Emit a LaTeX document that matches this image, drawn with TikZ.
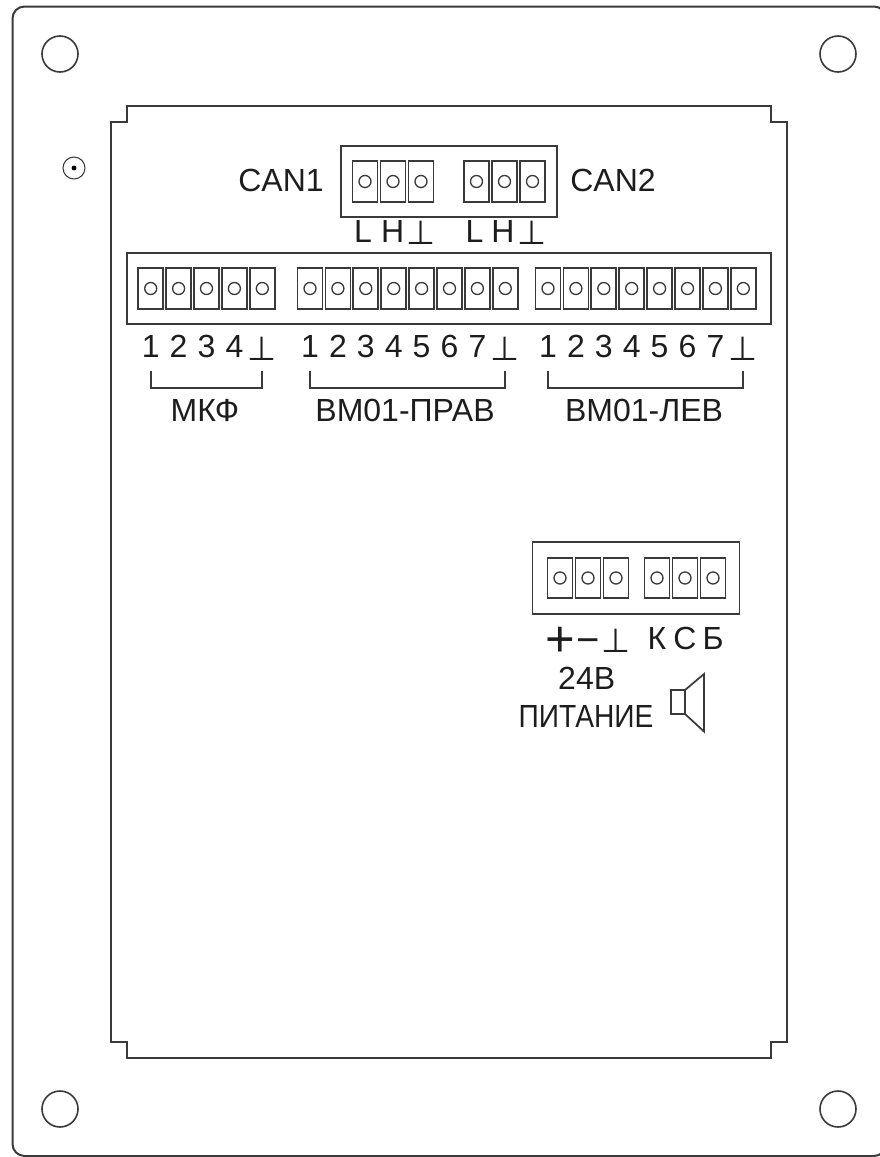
\documentclass[tikz,border=0pt]{standalone}
\usepackage{fontspec}
\setmainfont{Liberation Sans}
\newfontfamily\symfont{DejaVu Sans}
\usetikzlibrary{calc}
\definecolor{ink}{HTML}{3A3A3A}
\newcommand{\gnd}{{\symfont ⊥}}
\tikzset{
    every node/.style={text=ink!50!black, inner sep=0pt, outer sep=0pt},
    plate/.style={draw=ink, line width=1.5pt},
    thin line/.style={draw=ink, line width=1.3pt},
    terminal/.style={draw=ink, line width=1.3pt, minimum width=18.75pt, minimum height=30.5pt},
    hole/.style={circle, draw=ink, line width=1pt, minimum size=9pt},
    mount/.style={circle, draw=ink, line width=1.2pt, minimum size=27pt},
    lbl/.style={font=\fontsize{24}{28}\selectfont},
    gndlbl/.style={font=\fontsize{25}{28}\selectfont},
}

\begin{document}
\begin{tikzpicture}[x=0.75pt, y=-0.75pt]
        \useasboundingbox (0,0) rectangle (880,1157);
        \clip (0,0) rectangle (880,1157);

        % panel outline
        \draw[plate, rounded corners=9pt] (12.5,6.5) rectangle (886,1156);
        \node[mount] (m1) at (60,54) {};
        \node[mount] (m2) at (838,54) {};
        \node[mount] (m3) at (60,1109) {};
        \node[mount] (m4) at (838,1109) {};
        \node[circle, draw=ink, line width=0.8pt, minimum size=16.5pt] (mark) at (74,168) {};
        \node[circle, fill=black, minimum size=3.6pt] at (mark) {};

        % cut-out
        \draw[plate] (127,106) -- (771,106) -- (771,122) -- (786.5,122) -- (786.5,1042)
            -- (771,1042) -- (771,1058) -- (127,1058) -- (127,1042) -- (111,1042)
            -- (111,122) -- (127,122) -- cycle;

        % blocks
        \node[thin line, minimum width=162pt, minimum height=53.5pt] (can) at (449,181.5) {};
        \node[thin line, minimum width=483pt, minimum height=53.5pt] (strip) at (449,288.5) {};
        \node[thin line, minimum width=155.25pt, minimum height=53.5pt] (pwr) at (636,578) {};

        \foreach \n/\x in {a/365, b/393, c/421, d/476.5, e/504.5, f/532.5} {
            \node[terminal] (can\n) at (\x,181.5) {};
            \node[hole] at (can\n) {};
        }
        \foreach \n/\x in {1/150.7, 2/178.6, 3/206.5, 4/234.4, 5/262.3} {
            \node[terminal] (mic\n) at (\x,288.5) {};
            \node[hole] at (mic\n) {};
        }
        \foreach \n/\x in {1/310, 2/337.9, 3/365.8, 4/393.7, 5/421.6, 6/449.5, 7/477.4, 8/505.3} {
            \node[terminal] (rt\n) at (\x,288.5) {};
            \node[hole] at (rt\n) {};
        }
        \foreach \n/\x in {1/548, 2/575.9, 3/603.8, 4/631.7, 5/659.6, 6/687.5, 7/715.4, 8/743.3} {
            \node[terminal] (lf\n) at (\x,288.5) {};
            \node[hole] at (lf\n) {};
        }
        \foreach \n/\x in {a/560, b/588, c/616, d/657, e/685, f/713} {
            \node[terminal] (pw\n) at (\x,578) {};
            \node[hole] at (pw\n) {};
        }

        % labels
        \node[lbl] (can1) at (281,180) {CAN1};
        \node[lbl] (can2) at (613,180) {CAN2};
        \foreach \x/\t in {363/L, 392.7/H, 474.5/L, 503/H}
            \node[lbl] at (\x,231) {\t};
        \node[gndlbl] at (canc |- 0,233) {\gnd};
        \node[gndlbl] at (canf |- 0,233) {\gnd};

        \foreach \n in {1,2,3,4}
            \node[lbl] at (mic\n |- 0,346.7) {\n};
        \node[gndlbl] at (mic5 |- 0,349) {\gnd};
        \foreach \n in {1,...,7} {
            \node[lbl] at (rt\n |- 0,346.7) {\n};
            \node[lbl] at (lf\n |- 0,346.7) {\n};
        }
        \node[gndlbl] at (rt8 |- 0,349) {\gnd};
        \node[gndlbl] at (lf8 |- 0,349) {\gnd};

        \draw[thin line] (mic1 |- 0,370.7) -- (mic1 |- 0,387.7) -- (mic5 |- 0,387.7) -- (mic5 |- 0,370.7);
        \draw[thin line] (rt1 |- 0,370.7) -- (rt1 |- 0,387.7) -- (rt8 |- 0,387.7) -- (rt8 |- 0,370.7);
        \draw[thin line] (lf1 |- 0,370.7) -- (lf1 |- 0,387.7) -- (lf8 |- 0,387.7) -- (lf8 |- 0,370.7);
        \node[lbl] at (205,410) {МКФ};
        \node[lbl] at (405,410) {ВМ01-ПРАВ};
        \node[lbl] at (644,410) {ВМ01-ЛЕВ};

        \node[font=\fontsize{38}{40}\selectfont] at (pwa |- 0,642) {+};
        \node[font=\fontsize{30}{40}\selectfont] at (pwb |- 0,646) {−};
        \node[gndlbl] at (pwc |- 0,641) {\gnd};
        \node[lbl] at (pwd |- 0,638) {К};
        \node[lbl] at (pwe |- 0,638) {С};
        \node[lbl] at (pwf |- 0,638) {Б};
        \node[lbl] at (586.7,678) {24В};
        \node[lbl, xscale=0.88] at (586,716) {ПИТАНИЕ};

        % speaker
        \draw[thin line] (671,690) rectangle (685,714);
        \draw[thin line] (685,690) -- (704,674) -- (704,731.5) -- (685,714);
      \end{tikzpicture}
\end{document}
